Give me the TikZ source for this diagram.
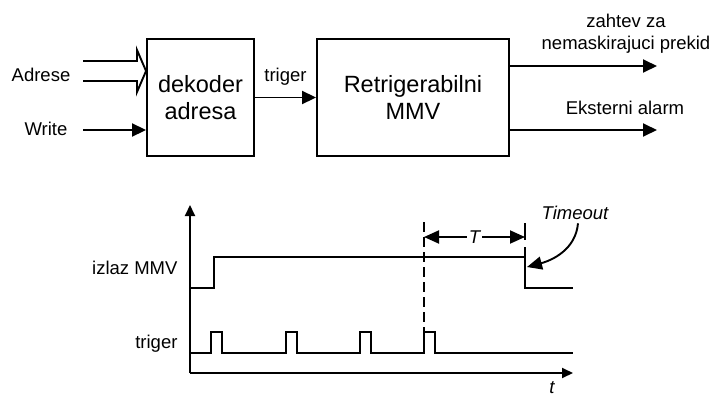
\documentclass[tikz,border=0pt]{standalone}
\usepackage{fontspec}
\setmainfont{Liberation Sans}
\usetikzlibrary{arrows.meta,positioning}
\tikzset{
  sig/.style={line width=1.9pt},
  blok/.style={draw,line width=1.9pt,minimum width=107pt,minimum height=117pt,
    inner sep=0pt,align=center,font=\fontsize{23.5}{27}\selectfont},
  lbl/.style={font=\fontsize{18.5}{22.5}\selectfont,align=center},
  tip/.style={-{Triangle[length=14pt,width=13pt]}},
  axtip/.style={-{Triangle[length=11pt,width=10pt]}}
}

\begin{document}
\begin{tikzpicture}[x=1pt,y=-1pt]
\useasboundingbox (0,0) rectangle (713,399);
% block diagram
\node[blok] (dek) at (200.5,97.5) {dekoder\\adresa};
\node[blok,minimum width=192pt] (mmv) at (413,97.5) {Retrigerabilni\\MMV};
\node[lbl] (adr) at (41,75) {Adrese};
\node[lbl] (wr) at (46,129) {Write};
\coordinate (adrin1) at (83,61);
\coordinate (adrin2) at (83,81);
\coordinate (wrin) at (83,130);
\draw[sig] (adrin1) -- (137,61) -- (137,50) -- (dek.west |- 0,71) -- (137,92) -- (137,81) -- (adrin2);
\draw[sig,tip] (wrin) -- (dek.west |- wrin);
\draw[sig,tip] (dek) -- (mmv) node[lbl,midway,above=8pt] (trg) {triger};
% outputs
\coordinate (nmi) at (657,66);
\coordinate (alarm) at (657,130);
\draw[sig,tip] (mmv.east |- nmi) -- (nmi);
\draw[sig,tip] (mmv.east |- alarm) -- (alarm);
\node[lbl] (nmilbl) at (626,33.5) {zahtev za\\nemaskirajuci prekid};
\node[lbl] (alarmlbl) at (625,108) {Eksterni alarm};
% timing diagram
\coordinate (O) at (190,373);
\draw[sig,axtip] (O) -- (190,205);
\draw[sig,axtip] (O) -- (573,373);
\node[lbl,font=\fontsize{18.5}{22.5}\selectfont\itshape] (tt) at (552,388) {t};
\node[lbl,anchor=east] (izl) at (181,268) {izlaz MMV};
\node[lbl,anchor=east] (trg2) at (181,344) {triger};
% izlaz MMV
\draw[sig] (190,288) -- (214,288) -- (214,257) -- (525,257);
\draw[sig] (525,247) -- (525,288) -- (573,288);
% triger pulses
\draw[sig] (190,353) \foreach \p in {211,286,360,424} { -- (\p,353) -- (\p,332) -- (\p+11,332) -- (\p+11,353) } -- (573,353);
\draw[sig,dash pattern=on 10pt off 5pt] (424,222) -- (424,332);
\draw[sig] (525,223) -- (525,240);
% T
\draw[sig,{Triangle[length=15pt,width=13pt]}-{Triangle[length=15pt,width=13pt]}] (424,237) -- (525,237)
  node[midway,fill=white,inner sep=1.5pt,font=\fontsize{18.5}{22.5}\selectfont\itshape] (tlbl) {T};
% Timeout
\node[lbl,font=\fontsize{18.5}{22.5}\selectfont\itshape] (tmo) at (575,213) {Timeout};
\draw[sig,-{Triangle[length=15pt,width=13pt]}] ([xshift=3pt]tmo.south) to[out=-95,in=15] (527,267);
\end{tikzpicture}
\end{document}
